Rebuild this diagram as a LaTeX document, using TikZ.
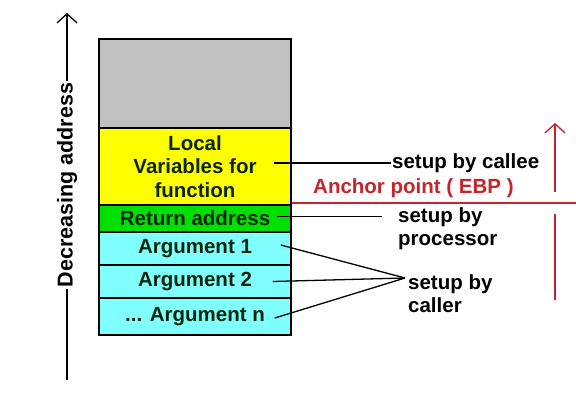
\documentclass[tikz,border=0pt]{standalone}
\usepackage{fontspec}
\setmainfont{Liberation Sans}
\usetikzlibrary{positioning,arrows.meta}
\usepackage{xcolor}
\definecolor{cellgray}{HTML}{C0C0C0}
\definecolor{cellyellow}{HTML}{FFFF00}
\definecolor{cellgreen}{HTML}{00E000}
\definecolor{cellcyan}{HTML}{80FFFF}
\definecolor{celltext}{HTML}{0A260A}
\definecolor{anchorred}{HTML}{C4242B}

\begin{document}
\begin{tikzpicture}[x=1pt,y=-1pt,
  cell/.style={draw=black,line width=1.5pt,minimum width=192pt,inner sep=0pt,align=center,
    text=celltext,font=\bfseries\fontsize{20.5}{23.5}\selectfont},
  lbl/.style={anchor=west,inner sep=1pt,align=left,font=\bfseries\fontsize{20.5}{23}\selectfont},
  wire/.style={line width=1.3pt},
  barb/.style={-{Straight Barb[length=9pt,width=20pt]}}]
\useasboundingbox (0,0) rectangle (576,404);
% the stack frame
\node[cell,fill=cellgray,minimum height=89pt] (free) at (195,83.5) {};
\node[cell,fill=cellyellow,minimum height=77pt] (locals) at (195,166.5) {Local\\Variables for\\function};
\node[cell,fill=cellgreen,minimum height=27pt] (ret) at (195,218.5) {Return address};
\node[cell,fill=cellcyan,minimum height=33pt] (arg1) at (195,248.5) {Argument 1};
\node[cell,fill=cellcyan,minimum height=33pt] (arg2) at (195,281.5) {Argument 2};
\node[cell,fill=cellcyan,minimum height=37pt] (argn) at (195,316.5) {... Argument n};

% address direction
\coordinate (addrlow) at (67,380);
\coordinate (addrhigh) at (67,13);
\node[rotate=90,fill=white,inner sep=2pt,font=\bfseries\fontsize{21.5}{24}\selectfont] (dec) at (67,185) {Decreasing address};
\draw[wire] (addrlow) -- (dec.west);
\draw[wire,barb] (dec.east) -- (addrhigh);

% who sets up what
\node[lbl] (callee) at (391,163) {setup by callee};
\node[lbl] (proc) at (397,228.5) {setup by\\processor};
\node[lbl] (caller) at (407,293.5) {setup by\\caller};
\coordinate (conv) at (405,278);
\draw[wire] ([xshift=-18pt]locals.east |- callee.west) -- (callee.west);
\draw[wire] ([xshift=-15pt,yshift=2pt]ret.east) -- ([xshift=-15pt,yshift=2pt]ret.east -| proc.west);
\draw[wire] ([xshift=-11pt,yshift=3.5pt]arg1.east) -- (conv);
\draw[wire] ([xshift=-19pt]arg2.east) -- (conv);
\draw[wire] ([xshift=-17pt,yshift=-1.5pt]argn.east) -- (conv);

% frame pointer
\node[anchor=west,inner sep=1pt,text=anchorred,font=\bfseries\fontsize{20.5}{23}\selectfont] (ebp) at (312,188) {Anchor point ( EBP )};
\coordinate (edge) at (576,203);
\coordinate (up0) at (555,192);
\coordinate (up1) at (555,123);
\coordinate (down0) at (555,214);
\coordinate (down1) at (555,300);
\draw[anchorred,line width=1.3pt] (locals.south east |- edge) -- (edge);
\draw[anchorred,line width=1.3pt,barb] (up0) -- (up1);
\draw[anchorred,line width=1.3pt] (down0) -- (down1);
\end{tikzpicture}
\end{document}
